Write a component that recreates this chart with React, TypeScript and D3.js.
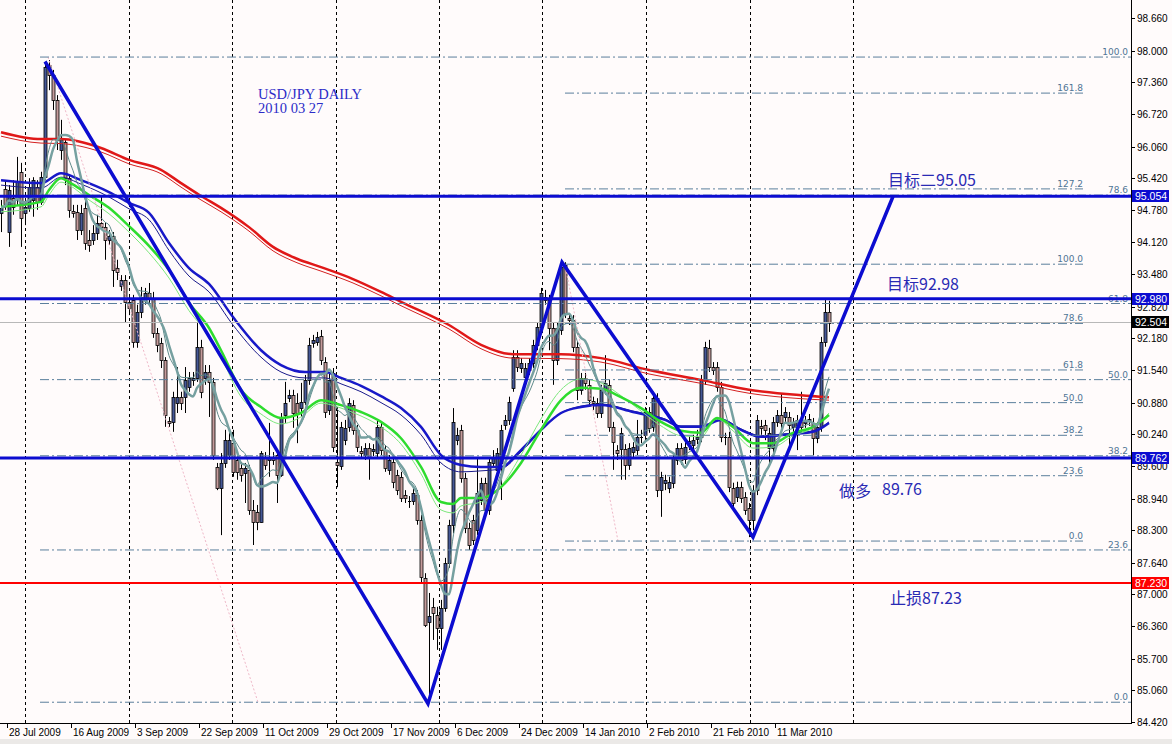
import * as d3 from 'd3';

type Bar = [number, number, number, number]; // open, high, low, close
type Pt = [number, number]; // bar index, price

// daily candles, 27 Jul 2009 .. 26 Mar 2010
const ohlc: Bar[] = [
  [94.72, 94.98, 94.33, 94.82], [95.20, 95.38, 94.78, 94.90], [94.33, 95.28, 94.03, 95.18], [95.02, 95.38, 94.68, 94.84],
  [95.02, 95.85, 94.88, 95.34], [95.55, 95.73, 94.03, 94.62], [94.72, 94.98, 94.47, 94.84], [94.82, 95.42, 94.74, 95.24],
  [94.98, 95.44, 94.64, 95.38], [95.24, 95.38, 94.78, 94.94], [94.94, 95.55, 94.88, 95.44], [95.44, 97.77, 95.38, 97.67],
  [97.71, 97.81, 97.20, 97.51], [97.51, 97.61, 96.80, 97.00], [97.00, 97.10, 95.99, 96.19], [95.99, 96.60, 95.79, 96.19],
  [96.15, 96.19, 95.28, 95.42], [95.42, 95.48, 94.62, 94.78], [94.76, 94.88, 94.62, 94.72], [94.74, 94.88, 94.17, 94.37],
  [94.37, 94.88, 94.27, 94.72], [94.82, 94.98, 93.97, 94.11], [94.17, 94.37, 93.93, 94.07], [94.17, 94.47, 94.07, 94.31],
  [94.31, 94.68, 94.17, 94.51], [94.51, 95.04, 94.37, 94.43], [94.43, 94.53, 93.77, 94.17], [94.17, 94.37, 94.07, 94.25],
  [94.25, 94.33, 93.22, 93.56], [93.60, 93.77, 93.36, 93.52], [93.24, 93.46, 93.14, 93.36], [93.36, 93.46, 92.51, 92.92],
  [92.92, 93.06, 92.65, 92.80], [92.96, 93.06, 91.99, 92.11], [92.11, 92.86, 91.99, 92.71], [92.71, 93.22, 92.59, 93.02],
  [92.96, 93.20, 92.86, 93.10], [93.10, 93.30, 92.86, 93.00], [93.00, 93.12, 92.19, 92.29], [92.29, 92.39, 91.90, 92.05],
  [92.09, 92.19, 91.58, 91.74], [91.74, 91.80, 90.39, 90.63], [90.51, 90.59, 90.39, 90.47], [90.49, 91.10, 90.29, 90.99],
  [90.87, 91.60, 90.67, 90.99], [90.99, 91.10, 90.73, 90.87], [90.99, 91.60, 90.67, 91.34], [91.20, 91.50, 91.10, 91.38],
  [91.34, 91.50, 91.22, 91.38], [91.38, 92.49, 91.30, 92.01], [92.01, 92.15, 90.97, 91.10], [91.38, 91.64, 91.24, 91.50],
  [91.50, 91.64, 90.59, 91.30], [91.30, 91.38, 89.72, 89.82], [89.58, 89.66, 89.11, 89.15], [89.15, 89.86, 88.20, 89.66],
  [89.66, 90.33, 89.56, 90.12], [89.82, 90.29, 89.72, 90.12], [90.06, 90.33, 89.38, 89.48], [89.72, 89.82, 89.32, 89.48],
  [89.56, 89.68, 89.28, 89.42], [89.46, 89.66, 88.85, 89.56], [89.52, 89.62, 88.61, 88.71], [88.71, 88.91, 88.00, 88.47],
  [88.67, 88.81, 88.30, 88.47], [88.47, 89.90, 88.45, 89.86], [89.76, 89.88, 89.52, 89.62], [89.72, 90.47, 89.38, 89.78],
  [89.78, 89.88, 89.62, 89.72], [89.82, 89.92, 88.85, 89.42], [89.42, 90.67, 89.38, 90.59], [90.63, 91.30, 90.47, 90.87],
  [90.97, 91.14, 90.89, 91.04], [91.04, 91.14, 90.37, 90.67], [90.87, 91.07, 90.06, 90.67], [90.77, 91.28, 90.59, 90.89],
  [90.89, 91.44, 90.83, 91.34], [91.34, 92.19, 91.24, 92.05], [92.09, 92.25, 91.99, 92.15], [92.11, 92.31, 92.03, 92.21],
  [92.23, 92.35, 91.64, 91.74], [91.70, 91.80, 90.57, 90.69], [90.73, 91.50, 90.63, 91.34], [91.48, 91.58, 89.88, 89.98],
  [89.68, 90.79, 89.17, 89.62], [89.60, 90.49, 89.52, 90.39], [90.12, 90.53, 90.02, 90.37], [90.39, 90.97, 90.29, 90.87],
  [90.83, 90.93, 90.23, 90.33], [90.33, 90.43, 89.88, 89.98], [89.90, 90.00, 89.76, 89.86], [89.82, 90.06, 89.72, 89.96],
  [89.96, 90.06, 89.32, 89.78], [89.90, 90.04, 89.80, 89.94], [89.86, 90.53, 89.76, 90.39], [90.39, 90.49, 89.82, 89.92],
  [89.92, 90.02, 89.48, 89.56], [89.52, 89.82, 89.42, 89.72], [89.68, 89.78, 89.15, 89.28], [89.42, 89.52, 89.01, 89.11],
  [89.38, 89.48, 88.87, 88.95], [89.01, 89.11, 88.85, 88.95], [88.89, 88.99, 88.75, 88.87], [88.89, 89.15, 88.81, 89.05],
  [89.01, 89.11, 88.41, 88.51], [88.51, 88.61, 87.25, 87.35], [87.33, 87.43, 86.34, 86.38], [86.44, 87.03, 84.81, 86.56],
  [86.75, 86.93, 86.08, 86.63], [86.59, 86.75, 85.88, 86.32], [86.32, 86.89, 85.88, 86.73], [86.73, 87.74, 86.65, 87.64],
  [87.64, 88.51, 87.54, 88.41], [88.41, 90.77, 88.24, 90.49], [90.12, 90.37, 90.02, 90.23], [90.33, 90.43, 89.26, 89.36],
  [89.36, 89.46, 88.24, 88.34], [88.34, 88.45, 87.90, 88.00], [88.51, 88.61, 88.00, 88.10], [88.30, 89.78, 88.20, 89.05],
  [88.91, 89.36, 88.81, 89.26], [89.26, 89.36, 88.61, 88.71], [88.71, 89.78, 88.61, 89.68], [89.66, 89.92, 89.56, 89.78],
  [89.52, 89.96, 89.42, 89.86], [89.66, 90.43, 88.91, 90.33], [90.43, 90.63, 90.33, 90.53], [90.53, 91.00, 90.43, 90.89],
  [91.18, 91.94, 91.10, 91.80], [91.80, 91.94, 91.50, 91.60], [91.58, 91.78, 91.48, 91.68], [91.40, 91.68, 91.30, 91.58],
  [91.54, 91.78, 91.44, 91.68], [91.68, 92.15, 91.58, 92.05], [92.05, 92.51, 91.94, 92.41], [92.41, 93.20, 92.31, 93.10],
  [93.02, 93.16, 92.86, 92.96], [92.96, 93.06, 91.94, 92.39], [92.39, 92.51, 91.24, 91.74], [91.74, 92.51, 91.64, 92.39],
  [92.35, 93.77, 92.25, 93.62], [93.66, 93.72, 92.59, 92.69], [92.59, 92.69, 92.45, 92.55], [92.55, 92.65, 91.90, 92.01],
  [92.01, 92.11, 90.93, 91.14], [91.14, 91.48, 91.04, 91.38], [91.38, 91.48, 91.14, 91.28], [91.24, 91.34, 90.83, 90.93],
  [90.91, 91.00, 90.73, 90.87], [90.87, 90.97, 90.57, 90.67], [90.67, 91.24, 90.57, 91.14], [91.14, 91.84, 91.04, 91.28],
  [91.24, 91.34, 90.29, 90.39], [90.39, 90.49, 89.52, 90.08], [89.92, 90.02, 89.72, 89.86], [89.94, 90.37, 89.32, 90.27],
  [89.94, 90.04, 89.32, 89.62], [89.62, 90.06, 89.52, 89.96], [89.88, 90.08, 89.78, 89.98], [89.92, 90.53, 89.82, 90.18],
  [90.18, 90.33, 90.06, 90.16], [90.23, 90.79, 90.12, 90.69], [90.69, 90.79, 90.27, 90.37], [90.39, 91.10, 90.29, 90.97],
  [90.97, 91.07, 88.97, 89.11], [89.11, 89.48, 88.57, 89.38], [89.26, 89.42, 89.11, 89.32], [89.15, 89.38, 89.05, 89.28],
  [89.26, 89.86, 89.15, 89.76], [89.72, 90.06, 89.62, 89.96], [89.96, 90.06, 89.62, 89.72], [89.74, 90.08, 89.64, 89.98],
  [90.06, 90.20, 89.92, 90.10], [90.02, 90.23, 89.92, 90.12], [90.14, 90.33, 90.04, 90.18], [90.18, 91.44, 90.08, 91.34],
  [91.34, 92.11, 91.24, 92.01], [91.99, 92.15, 91.50, 91.60], [91.60, 91.70, 91.44, 91.54], [91.60, 91.70, 91.10, 91.20],
  [91.20, 91.30, 90.08, 90.18], [90.18, 90.27, 90.02, 90.16], [90.18, 90.29, 89.07, 89.17], [89.15, 89.26, 88.75, 88.85],
  [88.97, 89.28, 88.87, 89.17], [89.17, 89.28, 88.85, 88.95], [88.97, 89.07, 88.61, 88.71], [88.75, 88.85, 88.16, 88.51],
  [88.51, 89.21, 88.30, 89.11], [89.11, 90.63, 89.01, 90.53], [90.41, 90.53, 90.23, 90.37], [90.43, 90.53, 90.12, 90.33],
  [89.96, 90.37, 89.62, 90.27], [89.96, 90.59, 89.86, 90.49], [90.49, 90.73, 90.39, 90.63], [90.63, 91.07, 90.37, 90.47],
  [90.59, 90.79, 90.49, 90.69], [90.59, 90.69, 89.92, 90.43], [90.39, 90.57, 90.29, 90.47], [90.39, 90.63, 89.92, 90.53],
  [90.53, 91.10, 90.29, 90.39], [90.47, 90.61, 90.37, 90.51], [90.51, 90.65, 90.41, 90.55], [90.47, 90.57, 89.82, 90.16],
  [90.16, 90.49, 90.06, 90.39], [90.39, 92.21, 90.29, 92.11], [92.11, 92.96, 92.01, 92.71], [92.71, 92.94, 92.31, 92.50],
];

const dateLabels = [
  '28 Jul 2009', '16 Aug 2009', '3 Sep 2009', '22 Sep 2009', '11 Oct 2009', '29 Oct 2009', '17 Nov 2009',
  '6 Dec 2009', '24 Dec 2009', '14 Jan 2010', '2 Feb 2010', '21 Feb 2010', '11 Mar 2010',
];
const dateBars = [2, 18, 34, 50, 66, 82, 98, 114, 130, 146, 162, 178, 194];

const priceTicks = [
  98.66, 98.0, 97.36, 96.72, 96.06, 95.42, 94.78, 94.12, 93.48, 92.82, 92.18, 91.54,
  90.88, 90.24, 89.6, 88.94, 88.3, 87.64, 87.0, 86.36, 85.7, 85.06, 84.42,
];

// moving averages, read at sample bars
const redThick: Pt[] = [
  [0, 96.35], [10, 96.21], [15, 96.21], [25, 96.03], [32, 95.79], [40, 95.59], [45, 95.32], [50, 95.06],
  [55, 94.82], [62, 94.43], [68, 94.03], [74, 93.79], [80, 93.62], [88, 93.38], [95, 93.12], [100, 92.92],
  [112, 92.45], [120, 92.05], [128, 91.86], [140, 91.86], [150, 91.78], [162, 91.54], [175, 91.34],
  [187, 91.14], [200, 91.03], [207, 90.99],
];
const redThin: Pt[] = [
  [0, 96.27], [10, 96.13], [15, 96.12], [25, 95.95], [32, 95.71], [40, 95.51], [45, 95.24], [50, 94.98],
  [55, 94.74], [62, 94.35], [68, 93.95], [74, 93.71], [80, 93.54], [88, 93.30], [95, 93.04], [100, 92.84],
  [112, 92.37], [120, 91.97], [128, 91.78], [140, 91.77], [150, 91.70], [162, 91.46], [175, 91.27],
  [187, 91.07], [200, 90.96], [207, 90.93],
];
const blueThick: Pt[] = [
  [0, 95.38], [10, 95.32], [15, 95.52], [20, 95.38], [27, 95.14], [32, 94.92], [37, 94.72], [42, 94.11],
  [47, 93.60], [52, 93.28], [58, 92.61], [65, 91.94], [70, 91.64], [76, 91.50], [81, 91.50], [85, 91.38],
  [90, 91.22], [95, 91.01], [100, 90.77], [105, 90.39], [110, 89.82], [115, 89.62], [120, 89.58],
  [125, 89.58], [130, 89.92], [135, 90.33], [140, 90.67], [145, 90.79], [150, 90.83], [158, 90.69],
  [166, 90.53], [170, 90.39], [175, 90.39], [180, 90.53], [185, 90.33], [190, 90.19], [196, 90.23],
  [203, 90.29], [207, 90.47],
];
const blueThin: Pt[] = [
  [0, 95.28], [10, 95.22], [15, 95.44], [20, 95.30], [27, 95.04], [32, 94.80], [37, 94.58], [42, 93.96],
  [47, 93.44], [52, 93.12], [58, 92.45], [65, 91.80], [70, 91.50], [76, 91.38], [81, 91.38], [85, 91.26],
  [90, 91.10], [95, 90.88], [100, 90.63], [105, 90.23], [110, 89.66], [115, 89.48], [120, 89.50],
  [125, 89.54], [130, 89.88], [135, 90.31], [140, 90.67], [145, 90.81], [150, 90.85], [158, 90.71],
  [166, 90.55], [170, 90.41], [175, 90.41], [180, 90.55], [185, 90.35], [190, 90.21], [196, 90.25],
  [203, 90.31], [207, 90.49],
];
const greenThick: Pt[] = [
  [0, 94.84], [10, 94.94], [12, 95.18], [15, 95.42], [17, 95.34], [22, 95.08], [27, 94.82], [32, 94.45],
  [37, 94.05], [42, 93.56], [47, 92.90], [52, 92.39], [55, 91.94], [60, 91.14], [65, 90.79], [70, 90.57],
  [75, 90.67], [80, 90.93], [85, 90.83], [90, 90.69], [95, 90.49], [100, 90.16], [105, 89.58], [110, 88.87],
  [113, 88.83], [115, 88.95], [120, 88.95], [125, 89.17], [130, 89.66], [135, 90.33], [140, 90.93],
  [145, 91.18], [150, 91.16], [155, 90.99], [160, 90.77], [165, 90.49], [170, 90.31], [175, 90.27],
  [179, 90.57], [183, 90.39], [188, 90.06], [193, 90.06], [198, 90.27], [203, 90.39], [207, 90.63],
];
const greenThin: Pt[] = [
  [0, 94.74], [10, 94.84], [12, 95.08], [15, 95.34], [17, 95.28], [22, 94.98], [27, 94.70], [32, 94.33],
  [37, 93.91], [42, 93.40], [47, 92.74], [52, 92.23], [55, 91.80], [60, 91.00], [65, 90.65], [70, 90.45],
  [75, 90.59], [80, 90.87], [85, 90.77], [90, 90.61], [95, 90.39], [100, 90.04], [105, 89.44], [110, 88.71],
  [113, 88.65], [115, 88.79], [120, 88.87], [125, 89.19], [130, 89.82], [135, 90.55], [140, 91.14],
  [145, 91.36], [150, 91.28], [155, 91.02], [160, 90.71], [165, 90.41], [170, 90.21], [175, 90.19],
  [179, 90.55], [183, 90.31], [188, 89.96], [193, 89.98], [198, 90.21], [203, 90.37], [207, 90.67],
];

// hand-drawn zigzag (bar, price)
const zigzag: Pt[] = [[11, 97.78], [106.75, 84.79], [140.25, 93.72], [188, 88.16], [223, 95.05]];

// fibonacci retracements
const fibLevels1 = [0, 23.6, 38.2, 50, 61.8, 78.6, 100];
const fib1 = { from: 9.75, to: 282.5, low: 84.82, high: 97.87, a: [11.75, 97.87] as Pt, b: [64.25, 84.82] as Pt };
const fibLevels2 = [0, 23.6, 38.2, 50, 61.8, 78.6, 100, 127.2, 161.8];
const fib2 = { from: 141, to: 270.5, low: 88.08, high: 93.68, a: [141, 93.68] as Pt, b: [154.25, 88.08] as Pt };

const hLevels = [
  { price: 95.054, color: '#0c0cd0' },
  { price: 92.98, color: '#0c0cd0' },
  { price: 89.762, color: '#0c0cd0' },
  { price: 87.23, color: '#ff0000' },
];
const bid = 92.504;

const notes = [
  { text: '目标二95.05', bar: 221.75, price: 95.26 },
  { text: '目标92.98', bar: 221.5, price: 93.16 },
  { text: '做多', bar: 209.5, price: 88.98 },
  { text: '89.76', bar: 220.25, price: 89.02 },
  { text: '止损87.23', bar: 222.25, price: 86.80 },
];
const title = ['USD/JPY DAILY', '2010 03 27'];

export default function App() {
  const W = 1172;
  const H = 744;
  const right = 1131;
  const bottom = 723;

  const x = d3.scaleLinear().domain([0, 282.5]).range([1, right]);
  const y = d3.scaleLinear().domain([84.42, 98.66]).range([722, 18]);

  const smooth = d3
    .line<Pt>()
    .x((d) => x(d[0]))
    .y((d) => y(d[1]))
    .curve(d3.curveMonotoneX);

  const closes = ohlc.map((d) => d[3]);
  const sma = (n: number): Pt[] =>
    closes.map((_, i) => [i, d3.mean(closes.slice(Math.max(0, i - n + 1), i + 1)) as number]);
  const ema = (n: number): Pt[] => {
    const k = 2 / (n + 1);
    let e = closes[0];
    return closes.map((c, i) => {
      e = i === 0 ? c : c * k + e * (1 - k);
      return [i, e];
    });
  };
  const grayThick = sma(8);
  const grayThin = ema(9);

  const gridBars = d3.range(9).map((j) => 6 + 25.875 * j);

  const fibLines = (levels: number[], f: typeof fib1, labelX: number) =>
    levels.map((lv) => {
      const p = f.low + ((f.high - f.low) * lv) / 100;
      const yy = y(p);
      return (
        <g key={lv}>
          <line x1={x(f.from)} x2={x(f.to)} y1={yy} y2={yy} stroke="#5b7f9c" strokeWidth={1} strokeDasharray="9 3 2 3" />
          <text x={labelX} y={yy - 2} fontSize={9} fill="#4f7595" textAnchor="end" fontFamily="'DejaVu Sans', sans-serif">
            {lv.toFixed(1)}
          </text>
        </g>
      );
    });

  const straight = d3
    .line<Pt>()
    .x((d) => x(d[0]))
    .y((d) => y(d[1]));

  const box = (v: number, bg: string, key: string) => (
    <g key={key}>
      <rect x={1132} y={Math.round(y(v)) - 6} width={37} height={12} fill={bg} />
      <text x={1135} y={Math.round(y(v)) + 4} fontSize={10.5} fill="#ffffff" fontFamily="'Liberation Sans', Arial, sans-serif">
        {v.toFixed(3)}
      </text>
    </g>
  );

  return (
    <svg
      xmlns="http://www.w3.org/2000/svg"
      width={W}
      height={H}
      style={{ position: 'absolute', left: 0, top: 0, background: '#fffbfb' }}
    >
      <defs>
        <clipPath id="plot">
          <rect x={0} y={0} width={right} height={bottom} />
        </clipPath>
      </defs>
      <rect x={0} y={0} width={W} height={H} fill="#fffbfb" />
      <rect x={0} y={739} width={W} height={5} fill="#ebe9e7" />

      <g clipPath="url(#plot)">
        {gridBars.map((b) => (
          <line key={b} x1={Math.round(x(b)) + 0.5} x2={Math.round(x(b)) + 0.5} y1={0} y2={bottom} stroke="#000" strokeDasharray="3 3" />
        ))}

        {/* candles */}
        {ohlc.map((d, i) => {
          const cx = Math.round(x(i)) + 0.5;
          const [o, h, l, c] = d;
          const top = Math.round(y(Math.max(o, c)));
          const bot = Math.round(y(Math.min(o, c)));
          const up = c >= o;
          return (
            <g key={i}>
              <line x1={cx} x2={cx} y1={y(h)} y2={y(l)} stroke="#000" strokeWidth={1} />
              {bot - top < 2 ? (
                <line x1={cx - 1.5} x2={cx + 1.5} y1={top + 0.5} y2={top + 0.5} stroke="#000" />
              ) : (
                <rect x={cx - 1.5} y={top + 0.5} width={3} height={bot - top} fill={up ? '#465896' : '#c49b9b'} stroke="#000" strokeWidth={0.8} />
              )}
            </g>
          );
        })}

        {/* moving averages */}
        <path d={smooth(redThin) ?? ''} fill="none" stroke="#d42020" strokeWidth={1} />
        <path d={smooth(redThick) ?? ''} fill="none" stroke="#e01818" strokeWidth={2.5} />
        <path d={smooth(blueThin) ?? ''} fill="none" stroke="#1c1c8c" strokeWidth={1} />
        <path d={smooth(blueThick) ?? ''} fill="none" stroke="#1818c8" strokeWidth={2.5} />
        <path d={smooth(greenThin) ?? ''} fill="none" stroke="#7ee87e" strokeWidth={1} />
        <path d={smooth(greenThick) ?? ''} fill="none" stroke="#2edc2e" strokeWidth={2.5} />
        <path d={smooth(grayThin) ?? ''} fill="none" stroke="#5e8a8a" strokeWidth={1} />
        <path d={smooth(grayThick) ?? ''} fill="none" stroke="#76a0a0" strokeWidth={2.5} />

        {/* fibonacci objects */}
        <path d={straight([fib1.a, fib1.b]) ?? ''} stroke="#efb8c8" strokeDasharray="2 2" fill="none" />
        <path d={straight([fib2.a, fib2.b]) ?? ''} stroke="#efb8c8" strokeDasharray="2 2" fill="none" />
        {fibLines(fibLevels1, fib1, 1128)}
        {fibLines(fibLevels2, fib2, x(fib2.to))}

        {/* bid line */}
        <line x1={0} x2={right} y1={Math.round(y(bid)) + 0.5} y2={Math.round(y(bid)) + 0.5} stroke="#b8b8b8" />

        {/* horizontal levels */}
        {hLevels.map((h) => (
          <line key={h.price} x1={0} x2={right} y1={y(h.price)} y2={y(h.price)} stroke={h.color} strokeWidth={h.color === '#ff0000' ? 2 : 3} />
        ))}

        {/* zigzag */}
        <path d={straight(zigzag) ?? ''} fill="none" stroke="#0c0cd0" strokeWidth={3.5} strokeLinejoin="miter" />
      </g>

      {/* text notes */}
      {title.map((t, i) => (
        <text key={t} x={x(64.25)} y={y(97.02) + i * 14} fontSize={14.5} fill="#2c2cc8" fontFamily="'Liberation Serif', serif">
          {t}
        </text>
      ))}
      {notes.map((n) => (
        <text key={n.text} x={x(n.bar)} y={y(n.price)} fontSize={16} fill="#2a2ab4" fontFamily="'Noto Sans CJK SC', sans-serif">
          {n.text}
        </text>
      ))}

      {/* axes */}
      <line x1={right + 0.5} x2={right + 0.5} y1={0} y2={bottom + 1} stroke="#000" />
      <line x1={0} x2={right + 1} y1={bottom + 0.5} y2={bottom + 0.5} stroke="#000" />
      {priceTicks.map((p) => (
        <g key={p}>
          <line x1={right} x2={right + 4} y1={Math.round(y(p)) + 0.5} y2={Math.round(y(p)) + 0.5} stroke="#000" />
          <text x={1137} y={y(p) + 4} fontSize={10} fill="#000" fontFamily="'Liberation Sans', Arial, sans-serif">
            {p.toFixed(3)}
          </text>
        </g>
      ))}
      {dateBars.map((b, i) => (
        <g key={b}>
          <line x1={Math.round(x(b)) - 1.5} x2={Math.round(x(b)) - 1.5} y1={bottom} y2={bottom + 5} stroke="#000" />
          <text x={Math.round(x(b))} y={736} fontSize={10} fill="#000" fontFamily="'Liberation Sans', Arial, sans-serif">
            {dateLabels[i]}
          </text>
        </g>
      ))}

      {box(95.054, '#0c0cd0', 'b1')}
      {box(92.98, '#0c0cd0', 'b2')}
      {box(bid, '#000000', 'b3')}
      {box(89.762, '#0c0cd0', 'b4')}
      {box(87.23, '#ff0000', 'b5')}
    </svg>
  );
}
